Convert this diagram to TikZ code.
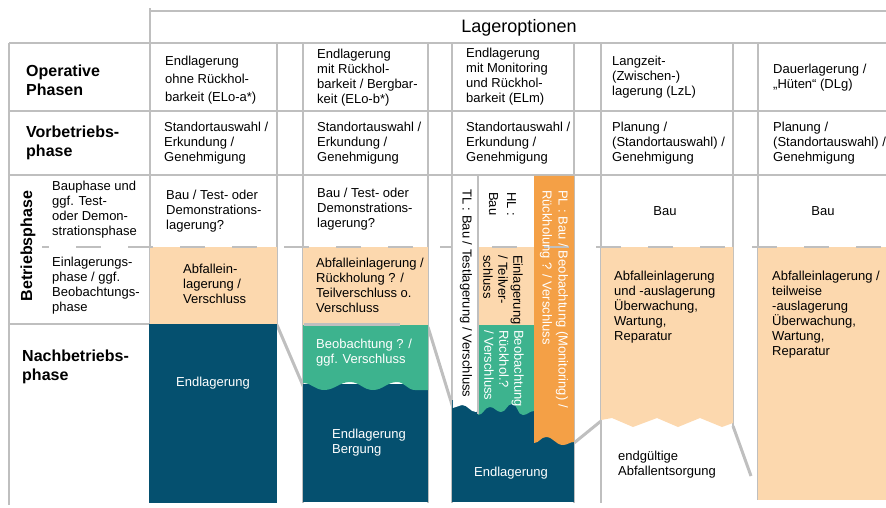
\documentclass[tikz,border=0pt]{standalone}
\usepackage{fontspec}
\setmainfont{Liberation Sans}
\definecolor{gridc}{HTML}{BFBFBF}
\definecolor{peach}{HTML}{FCD8AE}
\definecolor{grn}{HTML}{3DB38E}
\definecolor{dblue}{HTML}{05506F}
\definecolor{orng}{HTML}{F4A046}
\begin{document}
\begin{tikzpicture}[x=1pt,y=-1pt,
  gridline/.style={draw=gridc, line width=1.5pt},
  diag/.style={draw=gridc, line width=3pt},
  txt/.style={font=\fontsize{13}{15}\selectfont, align=left, inner sep=0pt, text=black},
  hdr/.style={font=\fontsize{16}{19}\selectfont\bfseries, align=left, inner sep=0pt, text=black},
  wtxt/.style={txt, text=white},
  vtxt/.style={txt, rotate=-90, anchor=west},
]
\useasboundingbox (0,0) rectangle (886,507);
% grid lines
\draw[gridline] (150,11) -- (886,11);
\draw[gridline] (9,43) -- (886,43);
\draw[gridline] (9,111) -- (886,111);
\draw[gridline] (9,175) -- (886,175);
\draw[gridline] (9,324) -- (150,324);
\draw[gridline] (9,43) -- (9,505);
\draw[gridline] (150,8) -- (150,503);
\draw[gridline] (277,43) -- (277,325);
\draw[gridline] (303,43) -- (303,503);
\draw[gridline] (428,43) -- (428,503);
\draw[gridline] (452,43) -- (452,503);
\draw[gridline] (574,43) -- (574,503);
\draw[gridline] (601,43) -- (601,503);
\draw[gridline] (733,43) -- (733,426);
\draw[gridline] (758,43) -- (758,500);
% diagonal connectors
\coordinate (d1a) at (277,325); \coordinate (d1b) at (304,388);
\coordinate (d2a) at (428,327); \coordinate (d2b) at (453,408);
\coordinate (d3a) at (574,443); \coordinate (d3b) at (601,421);
\coordinate (d4a) at (733,426); \coordinate (d4b) at (751,476);
\draw[diag] (d1a) -- (d1b);
\draw[diag] (d2a) -- (d2b);
\draw[diag] (d3a) -- (d3b);
\draw[diag] (d4a) -- (d4b);
% option 1
\fill[peach] (150,247) rectangle (277,324);
\fill[dblue] (149,324) rectangle (277,503);
% option 2
\fill[peach] (303,247) rectangle (428,325);
\fill[dblue] (303,384) rectangle (428,502);
\fill[grn] (303,325) -- (428,325) -- (428,390) -- (415,390) to[out=180,in=0] (397,382)
  to[out=180,in=0] (373,390) to[out=180,in=0] (350,382) to[out=180,in=0] (324,390)
  to[out=180,in=0] (303,383) -- cycle;
\draw[draw=gridc, line width=2.5pt] (304,324.5) -- (400,324.5);
% option 3
\fill[dblue] (452,400) rectangle (574,502);
\fill[peach] (478,247) rectangle (534,325);
\fill[grn] (478,325) -- (534,325) -- (534,411) to[out=180,in=0] (523,415)
  to[out=180,in=0] (512,404) to[out=180,in=0] (501,412) to[out=180,in=0] (490,407)
  to[out=180,in=0] (478,415) -- cycle;
\fill[orng] (534,175.75) -- (574,175.75) -- (574,442) to[out=180,in=0] (563,445)
  to[out=180,in=0] (546,437) to[out=180,in=0] (534,443) -- cycle;
% option 4
\fill[peach] (601,247) -- (733,247) -- (733,423) -- (722,427) -- (700,418) -- (678,427)
  -- (657,418) -- (633,427) -- (612,418) -- (601,420) -- cycle;
% option 5
\fill[peach] (758,247) rectangle (886,500);
% dashed separator
\draw[draw=gridc, line width=1.5pt, dash pattern=on 25pt off 27pt, dash phase=18pt] (42,247) -- (886,247);
% TL column
\fill[white] (452.75,176) -- (478,176) -- (478,411) -- (476,412) to[out=180,in=0] (462,405)
  to[out=180,in=0] (452.75,408) -- cycle;
\draw[gridline] (478,175) -- (478,414);
% title
\node[font=\fontsize{18}{20}\selectfont, inner sep=0pt] (title) at (519,28) {Lageroptionen};
% left labels
\node[hdr, anchor=west] (opph) at (26,80.5) {Operative\\Phasen};
\node[hdr, anchor=west] (vorb) at (26,143) {Vorbetriebs-\\phase};
\node[hdr, rotate=90] (betr) at (28,246) {Betriebsphase};
\node[hdr, anchor=west] (nach) at (22,367) {Nachbetriebs-\\phase};
\node[txt, anchor=west] (baup) at (52,210) {Bauphase und\\ggf. Test-\\oder Demon-\\strationsphase};
\node[txt, anchor=west] (einp) at (52,286) {Einlagerungs-\\phase / ggf.\\Beobachtungs-\\phase};
% header row
\node[txt, anchor=west, font=\fontsize{13}{18}\selectfont] (h1) at (165,80) {Endlagerung\\ohne Rückhol-\\barkeit (ELo-a*)};
\node[txt, anchor=west] (h2) at (317,77.5) {Endlagerung\\mit Rückhol-\\barkeit / Bergbar-\\keit (ELo-b*)};
\node[txt, anchor=west] (h3) at (466,77) {Endlagerung\\mit Monitoring\\und Rückhol-\\barkeit (ELm)};
\node[txt, anchor=west] (h4) at (612,77) {Langzeit-\\(Zwischen-)\\lagerung (LzL)};
\node[txt, anchor=west] (h5) at (773,77.5) {Dauerlagerung /\\„Hüten“ (DLg)};
% row 2
\node[txt, anchor=west] (v1) at (164,143) {Standortauswahl /\\Erkundung /\\Genehmigung};
\node[txt, anchor=west] (v2) at (317,143) {Standortauswahl /\\Erkundung /\\Genehmigung};
\node[txt, anchor=west] (v3) at (466,143) {Standortauswahl /\\Erkundung /\\Genehmigung};
\node[txt, anchor=west] (v4) at (612,143) {Planung /\\(Standortauswahl) /\\Genehmigung};
\node[txt, anchor=west] (v5) at (773,143) {Planung /\\(Standortauswahl) /\\Genehmigung};
% row 3 top
\node[txt, anchor=west] (b1) at (166,211) {Bau / Test- oder\\Demonstrations-\\lagerung?};
\node[txt, anchor=west] (b2) at (317,209) {Bau / Test- oder\\Demonstrations-\\lagerung?};
\node[txt] (b4) at (665,211) {Bau};
\node[txt] (b5) at (823,211) {Bau};
% peach texts
\node[txt, anchor=west] (p1) at (183,284) {Abfallein-\\lagerung /\\Verschluss};
\node[txt, anchor=west] (p2) at (316,285.5) {Abfalleinlagerung /\\Rückholung ? /\\Teilverschluss o.\\Verschluss};
\node[txt, anchor=west] (p4) at (614,307) {Abfalleinlagerung\\und -auslagerung\\Überwachung,\\Wartung,\\Reparatur};
\node[txt, anchor=west] (p5) at (772,314.5) {Abfalleinlagerung /\\teilweise\\-auslagerung\\Überwachung,\\Wartung,\\Reparatur};
% green / blue texts
\node[wtxt, anchor=west] (g2) at (316,353) {Beobachtung ? /\\ggf. Verschluss};
\node[wtxt] (e1) at (213,383) {Endlagerung};
\node[wtxt, anchor=west] (e2) at (332,442.5) {Endlagerung\\Bergung};
\node[wtxt] (e3) at (511,473) {Endlagerung};
\node[txt, anchor=west] (ent) at (618,465) {endgültige\\Abfallentsorgung};
% rotated texts in option 3
\node[vtxt] (tl) at (466,189) {TL : Bau / Testlagerung / Verschluss};
\node[vtxt, font=\fontsize{13}{18}\selectfont] (hl) at (502.5,192) {HL :\\Bau};
\node[vtxt] (hlp) at (503,255) {Einlagerung\\/ Teilver-\\schluss};
\node[vtxt, text=white] (hlg) at (504,330) {Beobachtung\\Rückhol.?\\/ Verschluss};
\node[vtxt, text=white, font=\fontsize{13}{16}\selectfont] (pl) at (554,190) {PL : Bau / Beobachtung (Monitoring) /\\Rückholung ? / Verschluss};
\end{tikzpicture}
\end{document}
